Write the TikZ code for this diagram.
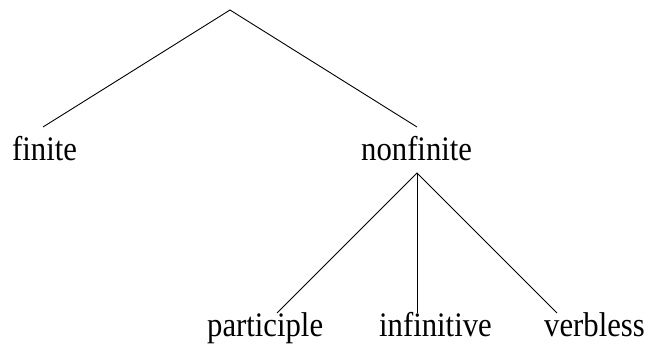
\documentclass[tikz,border=0pt]{standalone}
\usepackage{fontspec}
\usepackage{graphicx}
\setmainfont{Liberation Serif}
\newcommand{\tallword}[1]{\scalebox{1}[1.12]{#1}}
\begin{document}
\begin{tikzpicture}[x=1pt,y=-1pt,
  lbl/.style={inner sep=0pt,anchor=base west,font=\fontsize{30.7}{36}\selectfont},
  edge/.style={draw=black,line width=0.9pt}]
\useasboundingbox (0,0) rectangle (649,344);
\coordinate (root) at (230,10);
\node[lbl] (finite) at (12,160.5) {\tallword{finite}};
\node[lbl] (nonfinite) at (361,160.5) {\tallword{nonfinite}};
\node[lbl] (participle) at (207,336.5) {\tallword{participle}};
\node[lbl] (infinitive) at (379,336.5) {\tallword{infinitive}};
\node[lbl] (verbless) at (544,336.5) {\tallword{verbless}};
\coordinate (finiteTop) at (43,127);
\coordinate (nonfiniteTop) at (417,127);
\coordinate (nonfiniteBot) at (417,173);
\coordinate (participleTop) at (277,313);
\coordinate (infinitiveTop) at (417,313);
\coordinate (verblessTop) at (557,313);
\draw[edge] (finiteTop) -- (root) -- (nonfiniteTop);
\draw[edge] (participleTop) -- (nonfiniteBot) -- (verblessTop);
\draw[edge] (nonfiniteBot) -- (infinitiveTop);
\end{tikzpicture}
\end{document}
